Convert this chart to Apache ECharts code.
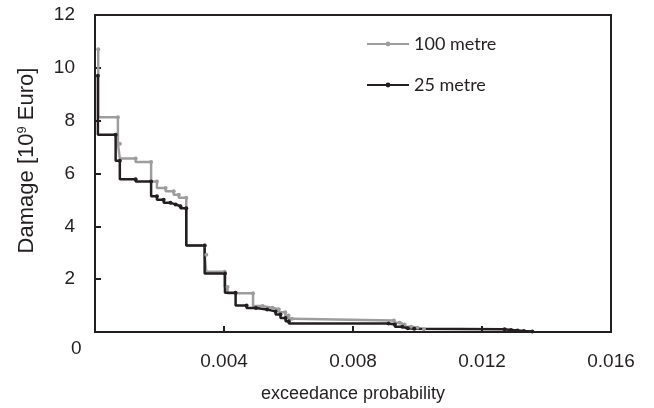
<!DOCTYPE html>
<html>
<head>
<meta charset="utf-8">
<script src="https://cdn.jsdelivr.net/npm/echarts@6/dist/echarts.min.js"></script>
<style>html,body{margin:0;padding:0;background:#fff}#c{width:654px;height:408px}</style>
</head>
<body>
<div id="c"></div>
<script>
// exceedance probability / damage [10^9 Euro] pairs (step curves)
const prob100 = [0.0001, 0.00071, 0.00077, 0.00126, 0.00174, 0.00192, 0.00219, 0.00244, 0.0026, 0.00283, 0.0034, 0.00345, 0.00402, 0.00411, 0.0049, 0.0052, 0.0055, 0.0057, 0.0059, 0.0060, 0.0061, 0.00927, 0.00945, 0.0096, 0.0098, 0.0100, 0.0102];
const dmg100  = [10.7, 8.13, 7.13, 6.57, 6.44, 5.70, 5.45, 5.33, 5.20, 5.08, 3.27, 2.92, 2.28, 1.70, 1.47, 0.98, 0.92, 0.86, 0.75, 0.62, 0.50, 0.44, 0.35, 0.28, 0.20, 0.16, 0.10];
const prob25 = [0.00009, 0.00064, 0.00077, 0.00126, 0.00174, 0.00192, 0.00213, 0.00234, 0.0025, 0.00265, 0.00283, 0.0034, 0.00403, 0.00436, 0.0047, 0.00499, 0.00534, 0.0056, 0.00575, 0.00591, 0.00601, 0.0091, 0.0093, 0.00953, 0.0097, 0.0099, 0.0127, 0.0129, 0.0131, 0.0133, 0.01356];
const dmg25  = [9.7, 7.47, 6.48, 5.78, 5.70, 5.14, 5.01, 4.89, 4.83, 4.76, 4.68, 3.27, 2.21, 1.49, 1.00, 0.91, 0.85, 0.78, 0.66, 0.53, 0.41, 0.32, 0.28, 0.20, 0.14, 0.12, 0.10, 0.08, 0.06, 0.04, 0.02];
const seriesNames = ['100 metre', '25 metre'];
const xTicks = [0, 0.004, 0.008, 0.012, 0.016];
const yTicks = [0, 2, 4, 6, 8, 10, 12];

const ink = '#231f20';
const grey = '#9d9d9d';
const zip = (a, b) => a.map((v, i) => [v, b[i]]);
const chart = echarts.init(document.getElementById('c'), null, {renderer: 'canvas'});
chart.setOption({
  animation: false,
  backgroundColor: '#fff',
  grid: {left: 95, top: 15, width: 516, height: 321, show: true, borderColor: ink, borderWidth: 2, backgroundColor: 'transparent'},
  legend: {
    orient: 'vertical', left: 366, top: 34, padding: 0, itemWidth: 42, itemHeight: 6, itemGap: 21,
    data: seriesNames,
    textStyle: {fontFamily: 'Lato', fontSize: 18, lineHeight: 20, color: ink}
  },
  xAxis: {
    type: 'value', min: xTicks[0], max: xTicks[xTicks.length - 1], interval: 0.004,
    name: 'exceedance probability', nameLocation: 'middle', nameGap: 53,
    nameTextStyle: {fontFamily: 'Liberation Sans', fontSize: 18, color: ink},
    axisLine: {show: true, lineStyle: {color: ink, width: 2}},
    axisTick: {show: true, inside: true, length: 6, lineStyle: {color: ink, width: 2}},
    splitLine: {show: false},
    axisLabel: {margin: 20, fontFamily: 'Liberation Sans', fontSize: 19, color: ink,
      formatter: v => v === 0 ? '' : String(v)}
  },
  yAxis: {
    type: 'value', min: yTicks[0], max: yTicks[yTicks.length - 1], interval: 2,
    name: '{a|Damage [10}{s|9}{a| Euro]}', nameLocation: 'middle', nameGap: 57,
    nameTextStyle: {padding: [0, 0, 0, 26], rich: {
      a: {fontFamily: 'Liberation Sans', fontSize: 22, color: ink},
      s: {fontFamily: 'Liberation Sans', fontSize: 13, color: ink, verticalAlign: 'top', padding: [0, 0, 9, 0]}
    }},
    axisLine: {show: true, lineStyle: {color: ink, width: 2}},
    axisTick: {show: true, inside: true, length: 6, lineStyle: {color: ink, width: 2}},
    splitLine: {show: false},
    axisLabel: {margin: 20, fontFamily: 'Liberation Sans', fontSize: 19, color: ink,
      formatter: v => v === 0 ? '' : String(v)}
  },
  graphic: [{type: 'text', left: 71, top: 339, style: {text: String(yTicks[0]), font: '19px "Liberation Sans"', fill: ink}}],
  series: [
    {name: seriesNames[0], type: 'line', step: 'start', data: zip(prob100, dmg100),
      symbol: 'circle', symbolSize: 4, showSymbol: true,
      itemStyle: {color: grey}, lineStyle: {color: grey, width: 2.5}},
    {name: seriesNames[1], type: 'line', step: 'start', data: zip(prob25, dmg25),
      symbol: 'circle', symbolSize: 4, showSymbol: true,
      itemStyle: {color: ink}, lineStyle: {color: ink, width: 2.5}}
  ]
});
</script>
</body>
</html>
